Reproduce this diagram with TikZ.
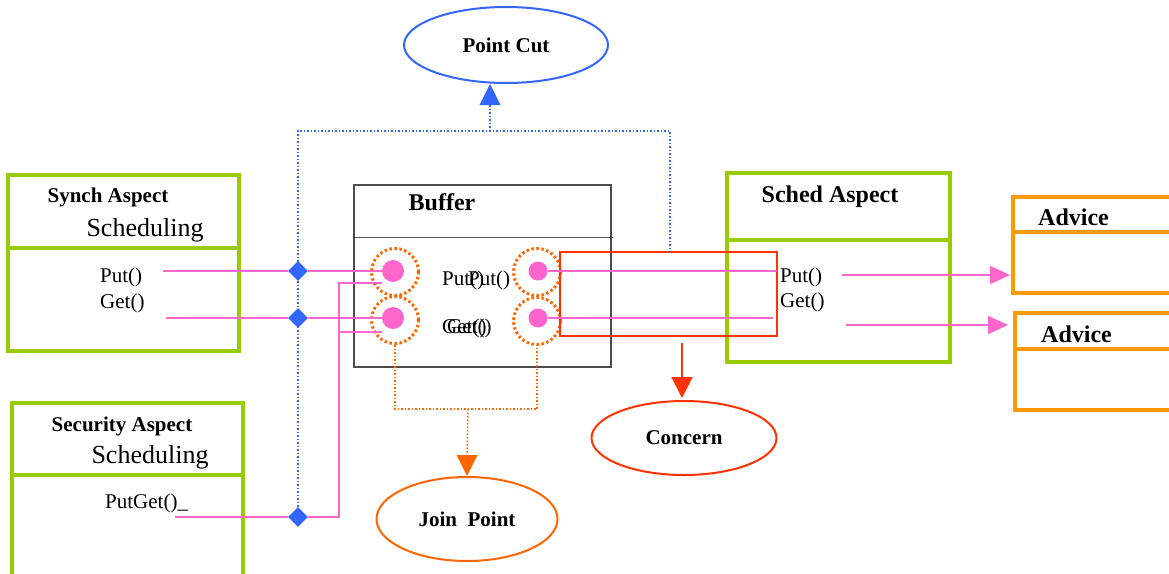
\documentclass[tikz,border=0pt]{standalone}
\usepackage{fontspec}
\setmainfont{Liberation Serif}
\usetikzlibrary{shapes.geometric, arrows.meta, positioning, calc}

\definecolor{aspgreen}{RGB}{153,204,0}
\definecolor{advorange}{RGB}{255,153,0}
\definecolor{jpink}{RGB}{255,102,204}
\definecolor{pcblue}{RGB}{51,102,255}
\definecolor{jporange}{RGB}{255,102,0}
\definecolor{cred}{RGB}{255,51,0}

\tikzset{
  aspectbox/.style={draw=aspgreen, line width=4pt, anchor=north west, outer sep=0pt, inner sep=0pt},
  advicebox/.style={draw=advorange, line width=3.5pt, anchor=north west, outer sep=0pt, inner sep=0pt},
  title/.style={font=\fontsize{21}{24}\selectfont\bfseries, inner sep=0pt},
  bigtitle/.style={font=\fontsize{24}{28}\selectfont\bfseries, inner sep=0pt},
  sched/.style={font=\fontsize{26}{30}\selectfont, inner sep=0pt},
  method/.style={font=\fontsize{21}{24}\selectfont, inner sep=0pt},
  bubble/.style={ellipse, line width=2pt, inner sep=0pt},
  jpring/.style={circle, draw=jporange, line width=3pt, dash pattern=on 2.5pt off 2.5pt, minimum size=47pt, inner sep=0pt},
  jpdot/.style={circle, fill=jpink, inner sep=0pt},
  hook/.style={diamond, fill=pcblue, minimum width=20pt, minimum height=20pt, inner sep=0pt},
  pinkline/.style={draw=jpink, line width=2pt},
  pcline/.style={draw=pcblue, line width=1.5pt, dash pattern=on 1.5pt off 2pt},
  jpline/.style={draw=jporange, line width=1.5pt, dash pattern=on 1.5pt off 2pt},
  bigtip/.style={-{Triangle[length=21pt, width=21pt]}}
}

\begin{document}
\begin{tikzpicture}[x=1pt, y=-1pt]
  \useasboundingbox (0,0) rectangle (1169,573);
  % Aspects
  \node[aspectbox, minimum width=231pt, minimum height=176pt] (synch) at (8,175) {};
  \draw[aspgreen, line width=4pt] ([yshift=-73pt]synch.north west) -- ([yshift=-73pt]synch.north east);
  \node[title] (synchT) at (108,197) {Synch Aspect};
  \node[sched] (synchS) at (145,230) {Scheduling};
  \node[method, anchor=west] (synchP) at (100,277) {Put()};
  \node[method, anchor=west] (synchG) at (100,303) {Get()};

  \node[aspectbox, minimum width=231pt, minimum height=200pt] (secur) at (12,403) {};
  \draw[aspgreen, line width=4pt] ([yshift=-72pt]secur.north west) -- ([yshift=-72pt]secur.north east);
  \node[title] (securT) at (122,426) {Security Aspect};
  \node[sched] (securS) at (150,457) {Scheduling};
  \node[method, anchor=west] (securPG) at (105,503) {PutGet()\_};

  \node[aspectbox, minimum width=223pt, minimum height=189pt] (sched) at (727,173) {};
  \draw[aspgreen, line width=4pt] ([yshift=-67pt]sched.north west) -- ([yshift=-67pt]sched.north east);
  \node[bigtitle] (schedT) at (830,197) {Sched Aspect};
  \node[method, anchor=west] (schedP) at (780,277) {Put()};
  \node[method, anchor=west] (schedG) at (780,302) {Get()};

  % Advices
  \node[advicebox, minimum width=200pt, minimum height=96pt] (adv1) at (1013,197) {};
  \draw[advorange, line width=3.5pt] ([yshift=-35pt]adv1.north west) -- ([yshift=-35pt]adv1.north east);
  \node[bigtitle, anchor=west] (adv1T) at (1038,217) {Advice};
  \node[advicebox, minimum width=200pt, minimum height=97pt] (adv2) at (1015,313) {};
  \draw[advorange, line width=3.5pt] ([yshift=-36pt]adv2.north west) -- ([yshift=-36pt]adv2.north east);
  \node[bigtitle, anchor=west] (adv2T) at (1041,334) {Advice};

  % Buffer
  \node[draw=black!70, line width=1.5pt, anchor=north west, outer sep=0pt, inner sep=0pt,
        minimum width=257pt, minimum height=182pt] (buffer) at (354,185) {};
  \draw[black, line width=1pt] ([yshift=-52pt]buffer.north west) -- ([yshift=-52pt]buffer.north east) -- +(2,0);
  \node[bigtitle] (bufferT) at (442,202) {Buffer};
  \node[method, anchor=west] (bufP1) at (442,280) {Put()};
  \node[method, anchor=west] (bufP2) at (468,280) {Put()};
  \node[method, anchor=west] (bufG1) at (442,328) {Get()};
  \node[method, anchor=west] (bufG2) at (447,328) {Get()};

  % Join points
  \node[jpring] (pl) at (395,272) {};
  \node[jpring] (gl) at (395,320) {};
  \node[jpring] (pr) at (537,272) {};
  \node[jpring] (gr) at (537,321) {};
  \node[jpdot, minimum size=22pt] (pld) at (393,271) {};
  \node[jpdot, minimum size=22pt] (gld) at (393,318) {};
  \node[jpdot, minimum size=19pt] (prd) at (538,271) {};
  \node[jpdot, minimum size=19pt] (grd) at (538,318) {};

  % Concern
  \node[draw=cred, line width=2pt, anchor=north west, outer sep=0pt, inner sep=0pt,
        minimum width=217pt, minimum height=84pt] (crect) at (560,252) {};

  % Bubbles
  \node[bubble, draw=pcblue, minimum width=204pt, minimum height=76pt, title] (pointcut) at (506,45) {Point Cut};
  \node[bubble, draw=cred, minimum width=185pt, minimum height=74pt, title] (concern) at (684,438) {Concern};
  \node[bubble, draw=jporange, minimum width=181pt, minimum height=84pt, title] (joinpoint) at (467,519) {Join~~Point};

  % Hooks
  \node[hook] (h1) at (298,271) {};
  \node[hook] (h2) at (298,318) {};
  \node[hook] (h3) at (298,517) {};

  % Point cut lines
  \coordinate (pcl) at (298,131);
  \coordinate (pcr) at (670,131);
  \coordinate (pcm) at (490,131);
  \draw[pcline] (h3) -- (pcl) -- (pcr) -- (pcr |- crect.north);
  \draw[pcline] (pcm) -- ($(pcm |- pointcut.south)+(0,21)$);
  \fill[pcblue] (pcm |- pointcut.south) -- ++(-10.5,21) -- ++(21,0) -- cycle;

  % Pink lines
  \coordinate (sput) at (163,271);
  \coordinate (sget) at (166,318);
  \coordinate (sputget) at (175,517);
  \coordinate (turn) at (339,517);
  \draw[pinkline] (sput) -- (h1) -- (pld.west);
  \draw[pinkline] (sget) -- (h2) -- (gld.west);
  \draw[pinkline] (sputget) -- (h3) -- (turn) |- ([yshift=-12pt]pld.west);
  \draw[pinkline] (turn |- 0,332) -- ([yshift=-14pt]gld.west);
  \draw[pinkline] (prd) -- (prd -| crect.east);
  \draw[pinkline] (grd) -- ($(grd -| crect.east)+(-4,0)$);
  \coordinate (aput) at (842,275);
  \coordinate (aget) at (846,325);
  \draw[pinkline, -{Triangle[length=20pt, width=18pt]}] (aput) -- ($(aput -| adv1.west)+(-3,0)$);
  \draw[pinkline, -{Triangle[length=20pt, width=18pt]}] (aget) -- ($(aget -| adv2.west)+(-7,0)$);

  % Join point lines
  \coordinate (jpbar) at (468,409);
  \draw[jpline] (gl.south) |- (jpbar) -| (gr.south);
  \draw[jpline] (jpbar) -- ($(joinpoint.north)+(0,-21)$);
  \fill[jporange] (joinpoint.north) -- ++(-10.5,-21) -- ++(21,0) -- cycle;

  % Concern arrow
  \draw[cred, line width=2pt, bigtip] ($(concern.north |- crect.south)+(-2,7)$) -- ($(concern.north)+(-2,-2)$);
\end{tikzpicture}
\end{document}
